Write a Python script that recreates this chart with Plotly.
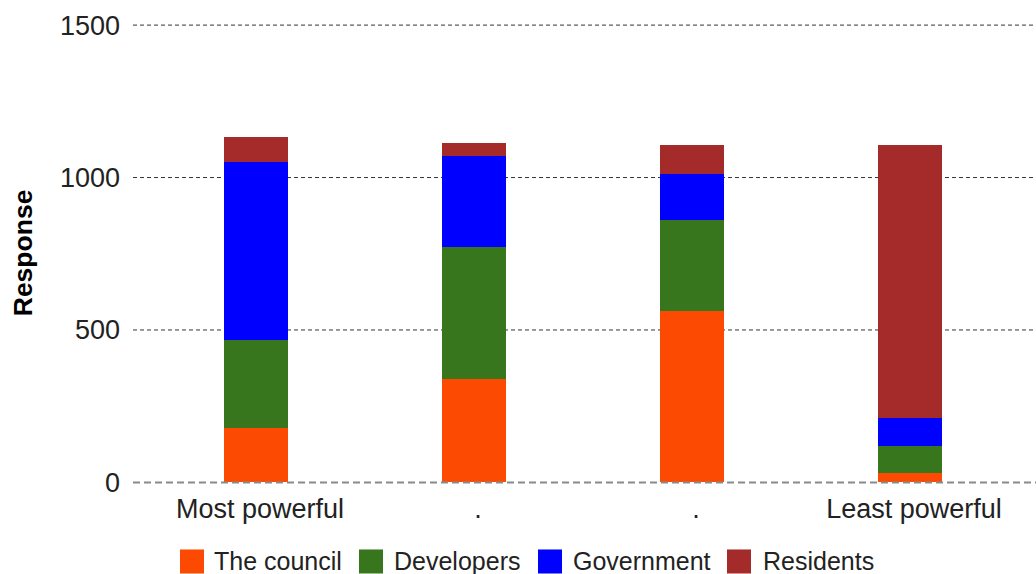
import plotly.graph_objects as go

# Survey responses: who is seen as most / least powerful
categories = ["Most powerful", ".", ".", "Least powerful"]
council = [180, 340, 561, 32]
developers = [287, 432, 300, 87]
government = [583, 298, 151, 91]
residents = [84, 42, 96, 898]
y_ticks = [0, 500, 1000, 1500]

series_names = ["The council", "Developers", "Government", "Residents"]
series_values = [council, developers, government, residents]
series_colors = ["#fc4a02", "#38761d", "#0000ff", "#a52a2a"]

W, H = 1036, 574
PLOT_L, PLOT_R = 133, 1036
Y_MIN, Y_MAX = -15, 1520
PX_PER_UNIT = (482 - 25) / 1500.0
PLOT_T = 25 - (Y_MAX - 1500) * PX_PER_UNIT
PLOT_B = PLOT_T + (Y_MAX - Y_MIN) * PX_PER_UNIT

FONT = "Liberation Sans, Arial, Helvetica, sans-serif"
TEXT = "#222222"

fig = go.Figure()
for name, vals, col in zip(series_names, series_values, series_colors):
    fig.add_trace(go.Bar(
        x=list(range(len(categories))), y=vals, name=name,
        marker=dict(color=col, line=dict(width=0)),
        width=0.294, showlegend=False,
    ))


def px_x(p):
    return (p - PLOT_L) / (PLOT_R - PLOT_L)


def px_y(p):
    return (PLOT_B - p) / (PLOT_B - PLOT_T)


shapes = []
# dashed horizontal grid behind the bars
for v in y_ticks[1:]:
    shapes.append(dict(type="line", xref="paper", yref="y", x0=0, x1=1, y0=v, y1=v,
                       line=dict(color="#333333", width=1, dash="4px,3px"), layer="below"))
# baseline at zero, drawn above bars
shapes.append(dict(type="line", xref="paper", yref="y", x0=0, x1=1, y0=0, y1=0,
                   line=dict(color="#8a8a8a", width=2, dash="7px,4px"), layer="above"))

annotations = []

# Custom legend row with large square swatches
legend_items = [(180, 213), (359, 393), (538, 572), (727, 762)]
sw_top, sw_bot, text_mid = 549, 573, 561
for (sx, tx), name, col in zip(legend_items, series_names, series_colors):
    shapes.append(dict(type="rect", xref="paper", yref="paper",
                       x0=px_x(sx), x1=px_x(sx + 24), y0=px_y(sw_bot), y1=px_y(sw_top),
                       fillcolor=col, line=dict(width=0)))
    annotations.append(dict(xref="paper", yref="paper", x=px_x(tx - 1), y=px_y(text_mid),
                            xanchor="left", yanchor="middle", showarrow=False,
                            text=name, font=dict(family=FONT, size=25, color=TEXT)))

annotations.append(dict(xref="paper", yref="paper", x=px_x(23), y=px_y(253),
                        xanchor="center", yanchor="middle", showarrow=False,
                        text="<b>Response</b>", textangle=-90,
                        font=dict(family=FONT, size=26.5, color="#000000")))

fig.update_layout(
    width=W, height=H,
    margin=dict(l=PLOT_L, r=W - PLOT_R, t=PLOT_T, b=H - PLOT_B, pad=0),
    paper_bgcolor="white", plot_bgcolor="white",
    barmode="stack",
    shapes=shapes, annotations=annotations,
    showlegend=False,
    font=dict(family=FONT, size=25, color=TEXT),
)
fig.update_xaxes(
    range=[-0.564, 3.578],
    tickmode="array", tickvals=list(range(len(categories))),
    ticktext=categories,
    showgrid=False, zeroline=False, showline=False, ticks="",
    tickfont=dict(family=FONT, size=27, color=TEXT),
    ticklabelshift=4, ticklabelstandoff=3,
)
fig.update_yaxes(
    range=[Y_MIN, Y_MAX],
    tickmode="array", tickvals=y_ticks,
    showgrid=False, zeroline=False, showline=False, ticks="",
    tickfont=dict(family=FONT, size=27, color=TEXT),
    ticklabelstandoff=12,
)

fig.write_html("out.html")
